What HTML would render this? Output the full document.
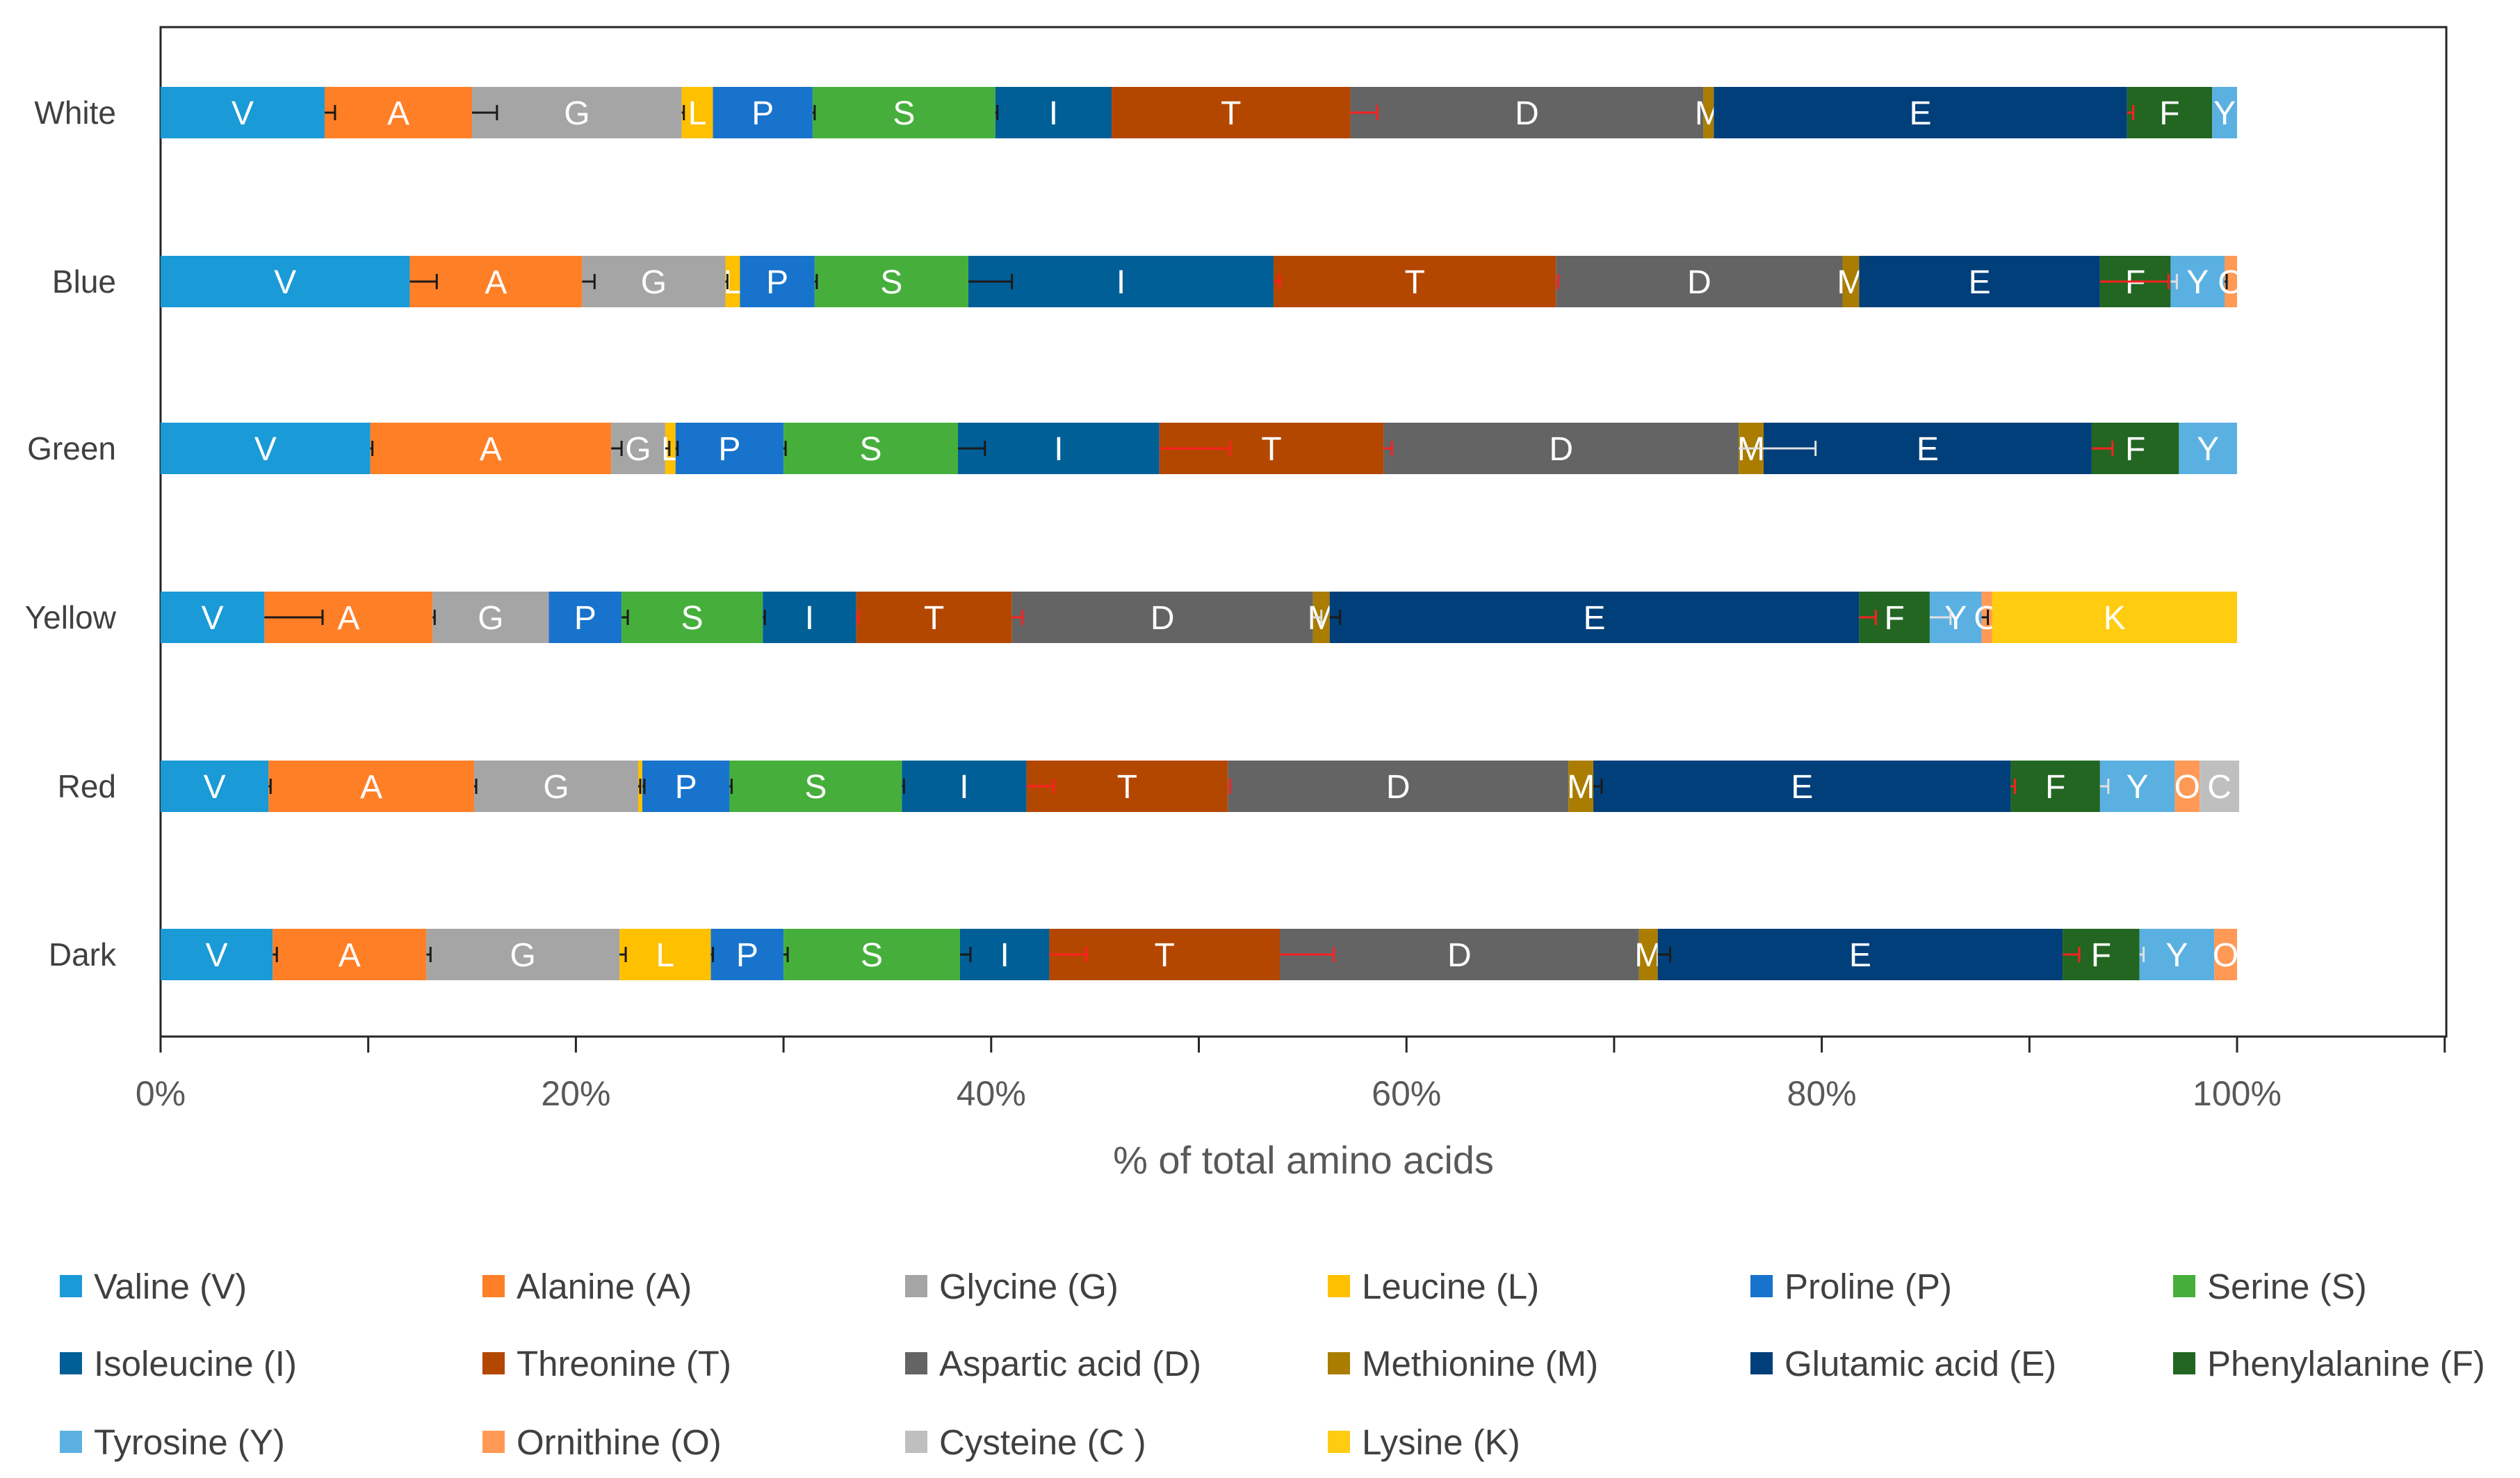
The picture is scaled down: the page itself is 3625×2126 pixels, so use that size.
<!DOCTYPE html>
<html><head><meta charset="utf-8">
<style>
html,body{margin:0;padding:0;background:#fff;}
svg{display:block;font-family:"Liberation Sans",Arial,sans-serif;}
</style></head>
<body>
<svg id="chart" width="3625" height="2126" viewBox="0 0 3625 2126" xmlns="http://www.w3.org/2000/svg">
<rect x="231" y="39" width="3288" height="1452" fill="none" stroke="#262626" stroke-width="3"/>
<g id="bars"></g>
<g id="axis"></g>
<g id="legend"></g>
</svg>
<script>
const categories = ["White","Blue","Green","Yellow","Red","Dark"];
const aminoKeys = ["V","A","G","L","P","S","I","T","D","M","E","F","Y","O","C","K"];
const aminoNames = ["Valine (V)","Alanine (A)","Glycine (G)","Leucine (L)","Proline (P)","Serine (S)","Isoleucine (I)","Threonine (T)","Aspartic acid (D)","Methionine (M)","Glutamic acid (E)","Phenylalanine (F)","Tyrosine (Y)","Ornithine (O)","Cysteine (C )","Lysine (K)"];
const colors = ["#1a9ad6","#ff7f27","#a5a5a5","#ffc000","#1873cc","#46af3c","#005f96","#b34700","#646464","#aa7d00","#003f7a","#226622","#5bb0e2","#ff9955","#bfbfbf","#ffcc11"];
// values per category, order: V A G L P S I T D M E F Y O C K
const valuesWhite  = [7.9,7.1,10.1,1.5,4.8,8.8,5.6,11.5,17.0,0.5,19.9,4.1,1.2,0,0,0];
const valuesBlue   = [12.0,8.3,6.9,0.7,3.6,7.4,14.7,13.6,13.8,0.8,11.6,3.4,2.6,0.6,0,0];
const valuesGreen  = [10.1,11.6,2.6,0.5,5.2,8.4,9.7,10.8,17.1,1.2,15.8,4.2,2.8,0,0,0];
const valuesYellow = [5.0,8.1,5.6,0,3.5,6.8,4.5,7.5,14.5,0.8,25.5,3.4,2.5,0.5,0,11.8];
const valuesRed    = [5.2,9.9,7.9,0.2,4.2,8.3,6.0,9.7,16.4,1.2,20.1,4.3,3.6,1.2,1.9,0];
const valuesDark   = [5.4,7.4,9.3,4.4,3.5,8.5,4.3,11.1,17.3,0.9,19.5,3.7,3.6,1.1,0,0];
const errWhite  = [0.5,1.2,0.1,0,0.1,0.1,0,1.3,0,0,0.3,0,0,0,0,0];
const errBlue   = [1.3,0.6,0.1,0,0.1,2.1,0.3,0.1,0,0,3.3,0.3,0.1,0,0,0];
const errGreen  = [0.1,0.5,0.2,0.1,0.1,1.3,3.4,0.4,3.7,0,1.0,0,0,0,0,0];
const errYellow = [2.8,0.1,0,0,0.3,0.1,0.1,0.5,0.4,0.5,0.8,1.0,0.3,0,0,0];
const errRed    = [0.1,0.1,0.1,0.1,0.1,0.1,1.3,0.1,0,0.4,0.2,0.4,0,0,0,0];
const errDark   = [0.2,0.2,0.3,0.1,0.2,0.5,1.8,2.6,0,0.6,0.8,0.2,0,0,0,0];
const allValues = [valuesWhite,valuesBlue,valuesGreen,valuesYellow,valuesRed,valuesDark];
const allErrors = [errWhite,errBlue,errGreen,errYellow,errRed,errDark];
const tickValues = [0,10,20,30,40,50,60,70,80,90,100,110];
const tickLabels = ["0%","","20%","","40%","","60%","","80%","","100%",""];

const NS="http://www.w3.org/2000/svg";
const X0=231, PX=29.87;
function xScale(v){return X0+v*PX;}
const rowY=[162,405,645,888,1131,1373];
function yScale(i){return rowY[i];}
const BH=74;
function mk(tag,attrs,parent){const e=document.createElementNS(NS,tag);for(const k in attrs)e.setAttribute(k,attrs[k]);parent.appendChild(e);return e;}

const bars=document.getElementById('bars');
categories.forEach((cat,ci)=>{
  const cy=yScale(ci);
  const lab=mk('text',{x:167,y:cy+16,'text-anchor':'end','font-size':46,fill:'#404040'},bars);
  lab.textContent=cat;
  
  
  let cum=0;
  const vals=allValues[ci], errs=allErrors[ci];
  const ends=[];
  vals.forEach((v,ki)=>{
    if(v<=0){ends.push(null);return;}
    const x1=xScale(cum), x2=xScale(cum+v);
    const r=mk('rect',{x:x1,y:cy-BH/2,width:x2-x1,height:BH,fill:colors[ki]},bars);
    
    
    if(v>=0.4){
      const t=mk('text',{x:(x1+x2)/2,y:cy+17,'text-anchor':'middle','font-size':48,fill:'#ffffff'},bars);
      t.textContent=aminoKeys[ki];
      
      
    }
    cum+=v;
    ends.push(cum);
  });
  ends.forEach((e,ki)=>{
    if(e===null||!errs[ki])return;
    let nk=ki+1; while(nk<vals.length&&vals[nk]<=0)nk++;
    let col='#1a1a1a';
    if(nk===7||nk===8||nk===11) col='#ff2020';
    else if(nk===9||nk===12) col='#e0e0e0';
    const xa=xScale(e), xb=xScale(e+errs[ki]);
    const g=mk('g',{stroke:col,'stroke-width':3},bars);
    
    
    mk('line',{x1:xa,y1:cy,x2:xb,y2:cy},g);
    mk('line',{x1:xb,y1:cy-11,x2:xb,y2:cy+11},g);
  });
});

const axis=document.getElementById('axis');
tickValues.forEach((tv,i)=>{
  const x=xScale(tv);
  const tk=mk('line',{x1:x,y1:1491,x2:x,y2:1514,stroke:'#262626','stroke-width':3},axis);
  
  
  if(tickLabels[i]){
    const t=mk('text',{x:x,y:1590,'text-anchor':'middle','font-size':50,fill:'#595959'},axis);
    t.textContent=tickLabels[i];
    
    
  }
});
const xt=mk('text',{x:1875,y:1688,'text-anchor':'middle','font-size':56,fill:'#595959'},axis);
xt.textContent='% of total amino acids';



const legend=document.getElementById('legend');
const colX=[86,694,1302,1910,2518,3126], rowLY=[1850,1961,2074];
aminoNames.forEach((n,i)=>{
  const x=colX[i%6], y=rowLY[Math.floor(i/6)];
  const g=mk('g',{},legend);
  
  
  mk('rect',{x:x,y:y-16,width:32,height:32,fill:colors[i]},g);
  const t=mk('text',{x:x+49,y:y+18,'font-size':51,fill:'#404040'},g);
  t.textContent=n;
});
</script>
</body></html>
